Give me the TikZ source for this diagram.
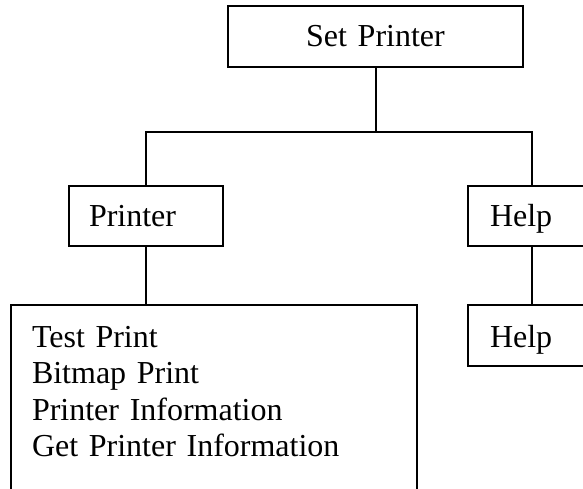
\documentclass[tikz,border=0pt]{standalone}
\usepackage{fontspec}
\setmainfont{Liberation Serif}
\usepackage{tikz}
\usetikzlibrary{positioning}
\newcommand{\menufont}{\fontsize{32pt}{36.5pt}\selectfont}
\tikzset{
  menubox/.style={
    draw, line width=2pt, outer sep=0pt, inner ysep=0pt, inner xsep=20pt,
    text height=40pt, text depth=20pt, align=left, font=\menufont
  },
  link/.style={line width=2pt, black},
}

\begin{document}
\begin{tikzpicture}[x=1pt, y=-1pt]

%% ── page frame ────────────────────────────────────────────────────
\clip (0,0) rectangle (583,488);

%% ── menu tree ─────────────────────────────────────────────────────
\node[menubox, align=center, text width=255pt, text depth=21pt, anchor=base] (setprinter) at (375.5,46) {Set Printer};
\node[menubox, text width=114pt, below left=119pt and 5pt of setprinter.south west] (printer) {Printer};
\node[menubox, inner xsep=22pt, text width=84pt, right=245pt of printer] (help) {Help};
\node[menubox, inner xsep=22pt, text width=84pt, text height=42pt, text depth=19pt, below=59pt of help] (helpitem) {Help};
\node[menubox, inner xsep=21pt, text width=364pt, text height=42pt, text depth=161pt,
      below right=59pt and -58pt of printer.south west] (printitems)
  {Test Print\\Bitmap Print\\Printer Information\\Get Printer Information};

%% ── connectors ────────────────────────────────────────────────────
\coordinate[below=65pt of setprinter.south] (fork);
\draw[link] (setprinter.south) -- (fork);
\draw[link] (printer.north) |- (fork) -| (help.north);
\draw[link] (printer.south) -- (printer.south |- printitems.north);
\draw[link] (help.south) -- (helpitem.north);

\end{tikzpicture}
\end{document}
